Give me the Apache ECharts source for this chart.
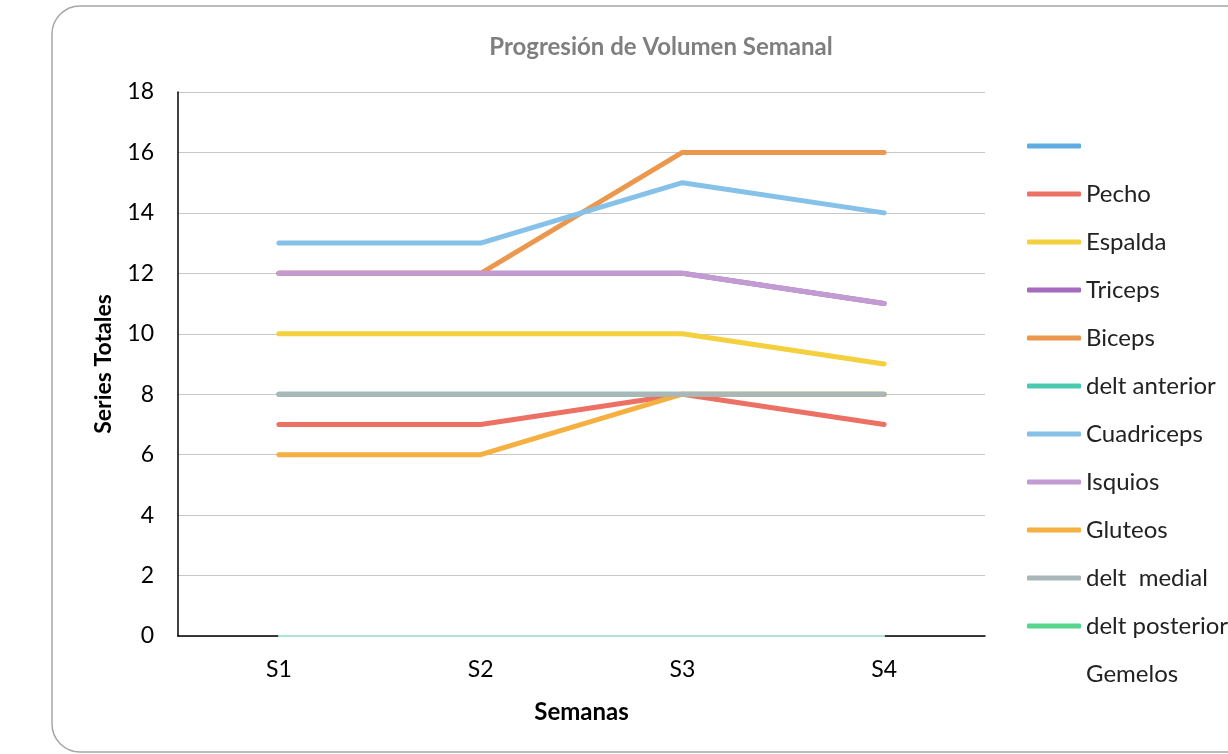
<!DOCTYPE html>
<html>
<head>
    <meta charset="utf-8">
    <title>Progresión de Volumen Semanal</title>
    <script src="https://cdn.jsdelivr.net/npm/echarts@6.0.0/dist/echarts.min.js"></script>
    <style>
        html, body { margin: 0; padding: 0; background: #fff; }
    </style>
</head>
<body>
    <div id="chart" style="width: 1228px; height: 754px;"></div>

    <script>
        // datos
        const semanas = ['S1', 'S2', 'S3', 'S4'];
        const blank = [null, null, null, null];
        const pecho = [7, 7, 8, 7];
        const espalda = [10, 10, 10, 9];
        const triceps = [12, 12, 12, 11];
        const biceps = [12, 12, 16, 16];
        const deltAnterior = [8, 8, 8, 8];
        const cuadriceps = [13, 13, 15, 14];
        const isquios = [12, 12, 12, 11];
        const gluteos = [6, 6, 8, 8];
        const deltMedial = [8, 8, 8, 8];
        const deltPosterior = [null, null, null, null];
        const gemelos = [0, 0, 0, 0];

        const nombres = [' ', 'Pecho', 'Espalda', 'Triceps', 'Biceps', 'delt anterior',
            'Cuadriceps', 'Isquios', 'Gluteos', 'delt  medial', 'delt posterior', 'Gemelos'];
        const valores = [blank, pecho, espalda, triceps, biceps, deltAnterior,
            cuadriceps, isquios, gluteos, deltMedial, deltPosterior, gemelos];
        const colores = ['#5dade2', '#ec7063', '#f4d03f', '#a569bd', '#eb984e', '#48c9b0',
            '#85c1e9', '#c39bd3', '#f5b041', '#aab7b8', '#58d68d', '#aee4d8'];

        const chart = echarts.init(document.getElementById('chart'));

        const series = nombres.map((n, i) => ({
            name: n,
            type: 'line',
            data: valores[i],
            symbol: 'none',
            color: colores[i],
            lineStyle: {
                width: n === 'Gemelos' ? 2 : 5,
                color: colores[i],
                cap: 'round',
                join: 'round'
            }
        }));

        const option = {
            animation: false,
            textStyle: { fontFamily: 'Lato' },
            graphic: [{
                type: 'rect',
                shape: { x: 52, y: 6, width: 1300, height: 746, r: 28 },
                style: { fill: 'none', stroke: '#a6a6a6', lineWidth: 1.5 },
                z: -10
            }],
            title: {
                text: 'Progresión de Volumen Semanal',
                left: 656,
                textAlign: 'center',
                top: 30,
                textStyle: { fontFamily: 'Lato', fontSize: 24, fontWeight: 'bold', color: '#7f7f7f' }
            },
            legend: {
                orient: 'vertical',
                left: 1022,
                top: 129,
                icon: 'roundRect',
                itemWidth: 54,
                itemHeight: 5,
                itemGap: 24,
                textStyle: { fontFamily: 'Lato', fontSize: 24, color: '#222', lineHeight: 24 },
                data: nombres.map(n => n === 'Gemelos'
                    ? { name: n, itemStyle: { opacity: 0 } }
                    : n)
            },
            grid: { left: 178, top: 92, width: 807, height: 544, containLabel: false },
            xAxis: {
                type: 'category',
                data: semanas,
                boundaryGap: true,
                name: 'Semanas',
                nameLocation: 'middle',
                nameGap: 64,
                nameTextStyle: { fontFamily: 'Lato', fontSize: 24, fontWeight: 'bold', color: '#000' },
                axisLine: { lineStyle: { color: '#000', width: 1.5 } },
                axisTick: { show: false },
                axisLabel: { fontFamily: 'Lato', fontSize: 23, color: '#000', margin: 22 }
            },
            yAxis: {
                type: 'value',
                min: 0,
                max: 18,
                interval: 2,
                name: 'Series Totales',
                nameLocation: 'middle',
                nameGap: 63,
                nameTextStyle: { fontFamily: 'Lato', fontSize: 23, fontWeight: 'bold', color: '#000' },
                axisLine: { show: true, lineStyle: { color: '#000', width: 1.5 } },
                axisTick: { show: false },
                axisLabel: { fontFamily: 'Lato', fontSize: 23, color: '#000', margin: 24 },
                splitLine: { lineStyle: { color: '#c8c8c8', width: 1 } }
            },
            series: series
        };

        chart.setOption(option);
    </script>
</body>
</html>
